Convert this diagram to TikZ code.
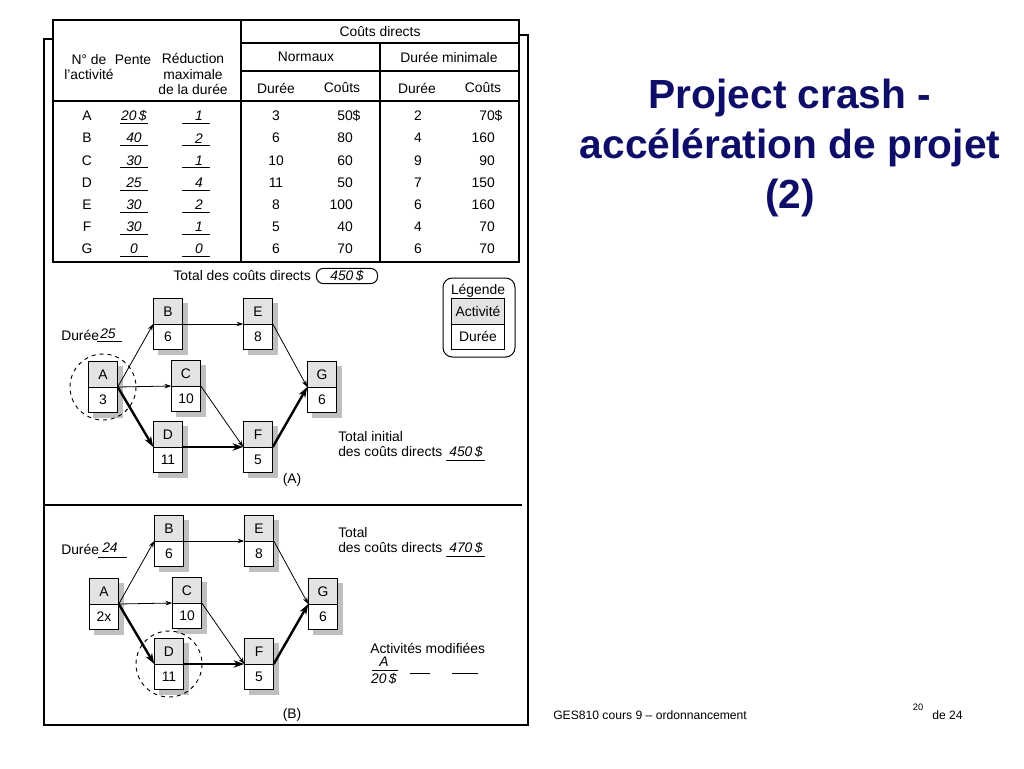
\documentclass[tikz,border=0pt]{standalone}
\usepackage{fontspec}
\setmainfont{Liberation Sans}
\usetikzlibrary{shapes.multipart,backgrounds,arrows.meta}
\definecolor{titlenavy}{RGB}{14,14,104}
\newcommand\actstrut{\rule[-5.45pt]{0pt}{18.4pt}}

\begin{document}
\begin{tikzpicture}[x=0.75pt,y=-0.75pt,
        every node/.style={inner sep=0pt,font=\fontsize{10.4}{11.3}\selectfont},
        activity/.style={rectangle split,rectangle split parts=2,draw,line width=0.75pt,
            rectangle split part fill={gray!22,white},text width=21.4pt,align=center,inner xsep=0pt,inner ysep=0pt},
        keybox/.style={activity,text width=39.8pt},
        shade/.style={fill=gray!50},
        lightarrow/.style={line width=0.6pt,-{Stealth[length=5pt,width=3.4pt]}},
        heavyarrow/.style={line width=1.8pt,-{Stealth[length=8pt,width=5.5pt]}},
        rule/.style={line width=0.7pt}
    ]
        \useasboundingbox (0,0) rectangle (1024,768);
        \begin{pgfonlayer}{background}
            \fill[white] (0,0) rectangle (1024,768);
        \end{pgfonlayer}

        \draw[line width=1.1pt] (53,39) -- (44,39) -- (44,725) -- (528,725) -- (528,35) -- (519,35);
        \draw[line width=1.1pt] (44,505) -- (522,505);

        \draw[line width=0.9pt] (53,20) rectangle (519,262);
        \draw[line width=0.9pt] (53,101) -- (519,101) (241,20) -- (241,262) (380,43) -- (380,262)
            (241,43) -- (519,43) (241,71) -- (519,71);
        \node (hcouts) at (380,32) {Coûts directs};
        \node (hnorm) at (306,57) {Normaux};
        \node (hmini) at (449,57) {Durée minimale};
        \node (hnd) at (276,88) {Durée};
        \node (hnc) at (342,88) {Coûts};
        \node (hmd) at (417,88) {Durée};
        \node (hmc) at (483,88) {Coûts};
        \node[align=center] (hnum) at (89,67) {N° de\\l'activité};
        \node (hpente) at (133,60) {Pente};
        \node[align=center] (hred) at (193,74) {Réduction\\maximale\\de la durée};

        \foreach \act/\pente/\red/\nd/\nc/\md/\mc [count=\i from 0,
                evaluate=\i as \ry using 116+22.2*\i] in
            {A/20\,\$/1/3/50\rlap{\$}/2/70\rlap{\$}, B/40/2/6/80/4/160, C/30/1/10/60/9/90,
             D/25/4/11/50/7/150, E/30/2/8/100/6/160, F/30/1/5/40/4/70, G/0/0/6/70/6/70} {
            \node (row\act) at (87,\ry) {\act};
            \node (pente\act) at (134,\ry) {\textit{\pente}};
            \node (red\act) at (199,\ry) {\textit{\red}};
            \node (nd\act) at (276,\ry) {\nd};
            \node[anchor=east] (nc\act) at (353,\ry) {\nc};
            \node (md\act) at (418,\ry) {\md};
            \node[anchor=east] (mc\act) at (495,\ry) {\mc};
            \draw[rule] (120,\ry+7.5) -- (148,\ry+7.5) (182,\ry+7.5) -- (210,\ry+7.5);
        }

        \node[anchor=east] (totaltxt) at (311,276) {Total des coûts directs};
        \node[draw,line width=0.75pt,rounded corners=5pt,minimum width=45.8pt,minimum height=11.3pt]
            (totalbox) at (347,276) {\textit{450\,\$}};

        \draw[line width=0.75pt,rounded corners=7pt] (443,278) rectangle (515,357);
        \node (legtitle) at (478,291) {Légende};
        \node[keybox] (legkey) at (478,324) {\actstrut Activité\nodepart{two}\actstrut Durée};

        \foreach \net/\dx/\dy/\adur/\ring in {a/0/0/3/A, b/1/217/2x/D} {
            \begin{scope}[shift={(\dx,\dy)}]
                \foreach \act/\px/\py/\dur in {A/103/387/\adur, B/168/324/6, C/186/386/10,
                        D/168/447/11, E/258/324/8, F/258/447/5, G/322/387/6}
                    \node[activity] (\net\act) at (\px,\py) {\actstrut\act\nodepart{two}\actstrut\dur};
                \begin{pgfonlayer}{background}
                    \foreach \act in {A,...,G}
                        \fill[shade] ([shift={(5,5)}]\net\act.north west) rectangle ([shift={(5,5)}]\net\act.south east);
                \end{pgfonlayer}
                \foreach \u/\v in {A/B,A/C,B/E,E/G,C/F}
                    \draw[lightarrow] (\net\u.east) -- (\net\v.west);
                \foreach \u/\v in {A/D,D/F,F/G}
                    \draw[heavyarrow] (\net\u.east) -- (\net\v.west);
                \draw[line width=0.7pt,dashed] (\net\ring) circle[radius=33];
            \end{scope}
        }

        \node[anchor=west] (dureea) at (61,335) {Durée};
        \node (dureeaval) at (108,334) {\textit{25}};
        \draw[rule] (97,341) -- (122,341);
        \node[anchor=west] (initiala) at (338,437) {Total initial};
        \node[anchor=west] (coutsa) at (338,452) {des coûts directs};
        \node (totala) at (466,452) {\textit{450\,\$}};
        \draw[rule] (446,460) -- (485,460);
        \node (capa) at (292,480) {(A)};

        \node[anchor=west] (dureeb) at (61,549) {Durée};
        \node (dureebval) at (110,548) {\textit{24}};
        \draw[rule] (98,557) -- (127,557);
        \node[anchor=west] (initialb) at (338,533) {Total};
        \node[anchor=west] (coutsb) at (338,548) {des coûts directs};
        \node (totalb) at (466,548) {\textit{470\,\$}};
        \draw[rule] (446,556) -- (485,556);
        \node[anchor=west] (modif) at (370,648) {Activités modifiées};
        \node (modifact) at (384,662) {\textit{A}};
        \draw[rule] (372,670) -- (398,670) (410,673) -- (430,673) (452,673) -- (478,673);
        \node (modifcost) at (384,679) {\textit{20\,\$}};
        \node (capb) at (292,715) {(B)};

        \node[align=center,text=titlenavy,font=\fontsize{30.5}{37.5}\selectfont\bfseries]
            (title) at (790,148) {Project crash -\\accélération de projet\\(2)};
        \node[anchor=base west,font=\fontsize{9.1}{11}\selectfont] (footer) at (553,719)
            {GES810 cours 9 \textendash{} ordonnancement};
        \node[font=\fontsize{7}{8}\selectfont] (pagenum) at (918,707) {20};
        \node[anchor=base west,font=\fontsize{9.1}{11}\selectfont] (pagetot) at (932,719) {de 24};
\end{tikzpicture}
\end{document}
